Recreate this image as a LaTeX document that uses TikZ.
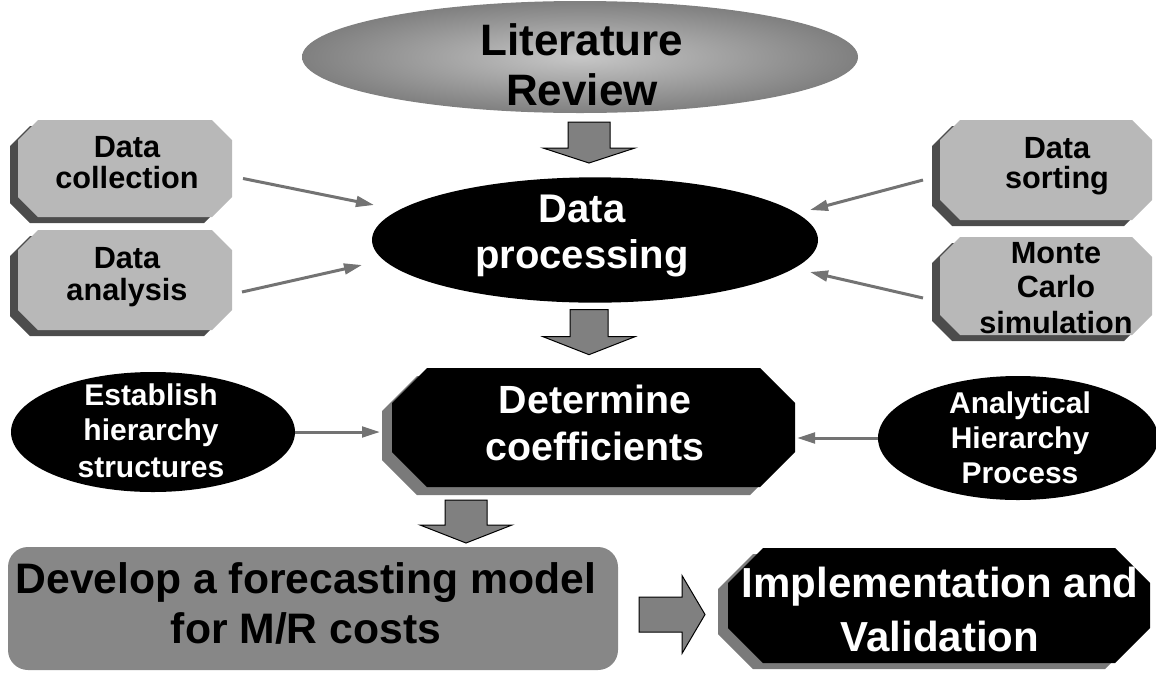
\documentclass[tikz,border=0pt]{standalone}
\usepackage{fontspec}
\setmainfont{Liberation Sans}
\usetikzlibrary{shapes.geometric,calc,arrows.meta}
\pgfdeclarelayer{background}
\pgfsetlayers{background,main}

% octagon outline around a node, with corner cut #2, offset by (#3,#4)
\newcommand\octpath[4]{%
  ($(#1.north west)+(#2+#3,#4)$) -- ($(#1.north east)+(-#2+#3,#4)$) --
  ($(#1.north east)+(#3,#2+#4)$) -- ($(#1.south east)+(#3,-#2+#4)$) --
  ($(#1.south east)+(-#2+#3,#4)$) -- ($(#1.south west)+(#2+#3,#4)$) --
  ($(#1.south west)+(#3,-#2+#4)$) -- ($(#1.north west)+(#3,#2+#4)$) -- cycle}

% downward block arrow: top centre, shaft half width, shaft length, head half width, head length
\newcommand\blockdown[5]{%
  \path[blockarrow] #1 ++(-#2,0) -- ++(2*#2,0) -- ++(0,#3) -- ++(#4-#2,0)
    -- ++(-#4,#5) -- ++(-#4,-#5) -- ++(#4-#2,0) -- cycle;}

\tikzset{
  every node/.style={inner sep=0pt, outer sep=0pt},
  blk/.style={anchor=base, text=black, font=\bfseries\fontsize{#1}{#1}\selectfont},
  wht/.style={anchor=base, text=white, font=\bfseries\fontsize{#1}{#1}\selectfont},
  facegray/.style={fill=black!28},
  shadowgray/.style={fill=black!70},
  darkshadow/.style={fill=black!52},
  blockarrow/.style={fill=black!50, draw=black, line width=0.75pt},
  thinarrow/.style={draw=black!55, line width=2.25pt,
    -{Triangle[length=13.5pt,width=8pt]}},
  blackell/.style={ellipse, fill=black},
}

\begin{document}
\begin{tikzpicture}[x=0.75pt, y=-0.75pt]
\useasboundingbox (0,0) rectangle (1156,672);

% ---------- shapes ----------
\node[ellipse, minimum width=417pt, minimum height=84pt,
      shade, inner color=black!22, outer color=black!50] (lr) at (580,57) {};
\node[blackell, minimum width=334.5pt, minimum height=94pt] (dp) at (595,240) {};

\node[minimum width=160.5pt, minimum height=72.75pt] (dc) at (125,168.5) {};
\node[minimum width=160.5pt, minimum height=75pt]    (da) at (125,280) {};
\node[minimum width=159pt,   minimum height=75pt]    (ds) at (1046,170) {};
\node[minimum width=159pt,   minimum height=73.5pt]  (mc) at (1046,286) {};

\node[minimum width=302.25pt, minimum height=89.25pt] (det) at (593.5,427.5) {};
\node[blackell, minimum width=213pt, minimum height=90pt] (est) at (153,432) {};
\node[blackell, minimum width=210pt, minimum height=93pt] (ahp) at (1018,438) {};

\node[rounded corners=15pt, fill=black!47, minimum width=457.5pt,
      minimum height=92.25pt] (dev) at (313,608.5) {};
\node[minimum width=316.5pt, minimum height=86.25pt] (impl) at (939,605.5) {};

\begin{pgfonlayer}{background}
  \foreach \b in {dc,da,ds,mc}{
    \fill[shadowgray] \octpath{\b}{20}{-8}{6};
    \fill[facegray] \octpath{\b}{20}{0}{0};
  }
  \fill[darkshadow] \octpath{det}{35}{-10}{8};
  \fill[black] \octpath{det}{35}{0}{0};
  \fill[darkshadow] \octpath{impl}{35}{-10}{6};
  \fill[black] \octpath{impl}{35}{0}{0};
\end{pgfonlayer}

% ---------- texts ----------
\node[blk=33pt] (lr1) at (582,55) {Literature};
\node[blk=33pt] (lr2) at (582,105) {Review};

\node[wht=30pt] (dp1) at (582,222) {Data};
\node[wht=30pt] (dp2) at (582,268) {processing};

\node[blk=23pt] (dc1) at (127,157) {Data};
\node[blk=23pt] (dc2) at (127,188) {collection};
\node[blk=23pt] (da1) at (127,268) {Data};
\node[blk=23pt] (da2) at (127,300) {analysis};
\node[blk=23pt] (ds1) at (1057,158) {Data};
\node[blk=23pt] (ds2) at (1057,188) {sorting};
\node[blk=23pt] (mc1) at (1056,263) {Monte};
\node[blk=23pt] (mc2) at (1056,297) {Carlo};
\node[blk=23pt] (mc3) at (1056,333) {simulation};

\node[wht=29.5pt] (det1) at (595,413) {Determine};
\node[wht=29.5pt] (det2) at (595,460) {coefficients};

\node[wht=22.5pt] (est1) at (151,405) {Establish};
\node[wht=22.5pt] (est2) at (151,440) {hierarchy};
\node[wht=22.5pt] (est3) at (151,477) {structures};
\node[wht=22.5pt] (ahp1) at (1020,413) {Analytical};
\node[wht=22.5pt] (ahp2) at (1020,448) {Hierarchy};
\node[wht=22.5pt] (ahp3) at (1020,483) {Process};

\node[blk=32pt] (dev1) at (306,593) {Develop a forecasting model};
\node[blk=32pt] (dev2) at (306,643) {for M/R costs};

\node[wht=31.5pt] (impl1) at (940,597) {Implementation and};
\node[wht=31.5pt] (impl2) at (940,651) {Validation};

% ---------- block arrows ----------
\blockdown{($(lr.south)+(9,9)$)}{21}{26}{46}{15}
\blockdown{($(dp.south)+(-6,7)$)}{19}{27}{46}{18}
\blockdown{($(dev.north)+(153,-47)$)}{21}{25}{46}{18}
\path[blockarrow] ($(dev.east)+(21,6)$) ++(0,-17.5) -- ++(43,0) -- ++(0,-21.5)
  -- ++(23,39) -- ++(-23,39) -- ++(0,-21.5) -- ++(-43,0) -- cycle;

% ---------- thin connectors ----------
\draw[thinarrow] ($(dc.east)+(11,10)$) -- ($(dp.west)+(2,-35)$);
\draw[thinarrow] ($(da.east)+(10,12)$) -- ($(dp.west)+(-10,25)$);
\draw[thinarrow] ($(ds.west)+(-17,10)$) -- ($(dp.east)+(-8,-30)$);
\draw[thinarrow] ($(mc.west)+(-17,12)$) -- ($(dp.east)+(-8,32)$);
\draw[thinarrow, shorten >=9pt] (est.east) -- (est.east -| det.west);
\draw[thinarrow, shorten >=1.5pt] (ahp.west) -- (ahp.west -| det.east);
\end{tikzpicture}
\end{document}
